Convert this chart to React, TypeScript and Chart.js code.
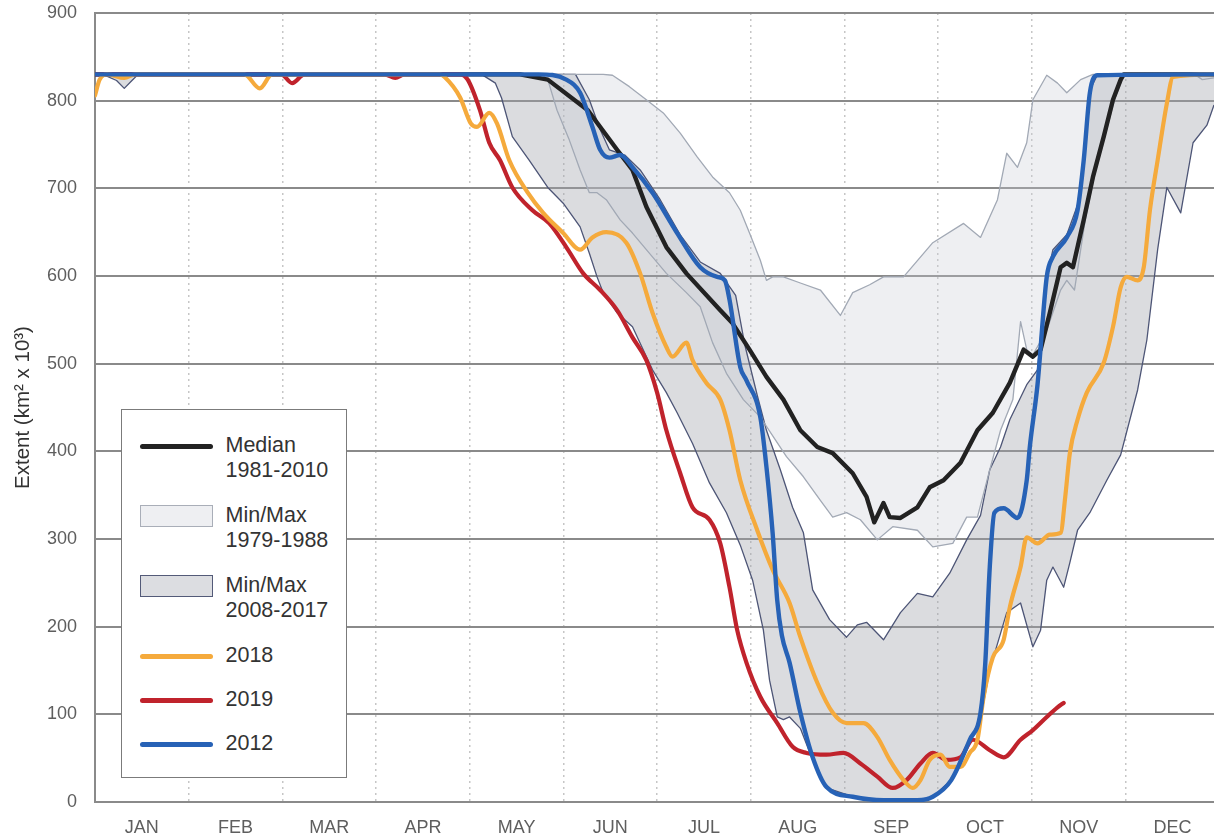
import React, { useEffect, useRef } from "react";
import { Chart, registerables } from "chart.js";

Chart.register(...registerables);

// ---------- axes / labels ----------
const MONTHS = ["JAN", "FEB", "MAR", "APR", "MAY", "JUN", "JUL", "AUG", "SEP", "OCT", "NOV", "DEC"];
const Y_TICKS = [0, 100, 200, 300, 400, 500, 600, 700, 800, 900];
const DAYS_IN_YEAR = 365;
const X_END = 363.3;
const Y_TITLE = "Extent (km\u00b2 x 10\u00b3)";

// ---------- series (day of year, extent km² x 10³) ----------
const DAYS_2012 = [0, 144, 153, 157.5, 161.5, 164, 167, 170.5, 174.5, 181, 189, 196.5, 202, 204.5, 206, 209.5, 211.5, 216, 218, 220, 221.5, 223, 225.5, 229, 233, 237.5, 246, 256, 267, 272, 278, 284, 287.5, 289, 290.5, 292, 295, 299.5, 302.5, 303.5, 306, 309, 311, 315.5, 319, 321, 323, 325.5, 363.3];
const EXTENT_2012 = [830, 830, 824, 809, 770, 744, 735, 738, 724, 695, 649, 610, 599, 595, 573, 496, 481, 439, 382, 307, 230, 190, 159, 102, 51, 17, 6, 2, 2, 6, 25, 71, 102, 156, 268, 330, 335, 324, 367, 405, 476, 599, 622, 644, 675, 732, 809, 829, 830];

const DAYS_2018 = [0, 1.5, 4, 9.5, 13, 48.5, 53.5, 57.5, 112, 113.5, 118.5, 122, 124, 128, 130.5, 134.5, 140.5, 145.5, 152, 157.5, 161.5, 166, 172.5, 177, 181, 185.5, 187.5, 192, 194, 198.5, 203, 206, 209.5, 215, 220, 225.5, 229, 234.5, 239.5, 244, 249.5, 254, 258, 262.5, 265.5, 268, 271, 274.5, 277.5, 281, 284, 286.5, 288.5, 291.5, 295, 297, 300.5, 302.5, 306, 310, 313.5, 315, 316.5, 319, 322, 327.5, 330.5, 333, 335, 338.5, 340.5, 342.5, 345, 348, 350, 363.3];
const EXTENT_2018 = [806, 824, 830, 826, 830, 830, 814, 830, 830, 827, 804, 774, 770, 786, 774, 732, 695, 672, 649, 630, 644, 650, 638, 603, 558, 519, 508, 524, 504, 478, 459, 424, 367, 310, 265, 227, 188, 136, 102, 90, 90, 74, 48, 25, 16, 25, 48, 54, 40, 40, 56, 71, 120, 165, 185, 222, 268, 302, 295, 305, 307, 348, 398, 436, 467, 501, 542, 587, 599, 595, 610, 675, 732, 797, 827, 830];

const DAYS_2019 = [0, 60.5, 64, 68, 94, 97.5, 100.5, 118.5, 121, 125, 128, 131.5, 135.5, 142, 147.5, 153, 158.5, 164, 169.5, 174.5, 179, 182.5, 185.5, 190, 194, 199.5, 203, 206, 208.5, 211.5, 216, 221.5, 226.5, 231, 237.5, 243, 248.5, 254, 259, 263.5, 268, 272, 276.5, 281, 285, 290.5, 295, 300.5, 304.5, 309, 312.5, 314.5];
const EXTENT_2019 = [830, 830, 820, 830, 830, 826, 830, 830, 824, 789, 752, 732, 701, 675, 660, 633, 603, 584, 561, 530, 504, 467, 424, 375, 336, 322, 295, 245, 196, 159, 120, 90, 63, 56, 54, 56, 44, 29, 16, 25, 44, 56, 48, 51, 71, 59, 51, 71, 82, 97, 108, 113];

const DAYS_MEDIAN = [0, 138, 147, 160, 169.5, 174.5, 179, 185.5, 192, 203, 207, 212.5, 218, 223.5, 229, 234.5, 239.5, 246, 250.5, 253, 256, 258, 261.5, 267, 271, 275.5, 281, 286.5, 291.5, 297, 301.5, 304.5, 307, 310, 313.5, 315.5, 317.5, 321, 324, 327.5, 330.5, 333, 334, 363.3];
const EXTENT_MEDIAN = [830, 830, 824, 789, 744, 721, 679, 633, 603, 561, 546, 516, 485, 459, 424, 405, 398, 375, 348, 319, 341, 325, 324, 336, 359, 367, 387, 424, 444, 478, 516, 508, 516, 558, 610, 615, 610, 664, 713, 759, 801, 824, 830, 830];

const DAYS_MAX_7988 = [0, 165, 168, 173.5, 179, 184.5, 190, 195.5, 200.5, 206, 209.5, 212.5, 216, 218, 220, 223.5, 229, 235.5, 242, 246, 251.5, 256, 262.5, 272, 282, 287.5, 293, 296, 299.5, 302.5, 304.5, 309, 312.5, 315.5, 320, 324, 357, 359.5, 363.3];
const EXTENT_MAX_7988 = [830, 830, 829, 816, 801, 786, 763, 736, 713, 695, 675, 649, 618, 595, 599, 599, 592, 584, 555, 581, 590, 599, 599, 638, 660, 644, 687, 740, 724, 752, 801, 829, 820, 809, 824, 830, 830, 824, 826];

const DAYS_MIN_7988 = [0, 145, 147, 150, 154, 157.5, 160.5, 163, 166, 170.5, 174.5, 179, 185.5, 192, 196.5, 200.5, 205, 210.5, 216, 224.5, 230, 235.5, 239.5, 244, 248.5, 254, 259, 267, 272, 278.5, 283, 286.5, 290.5, 294, 298, 300.5, 302.5, 304.5, 309, 313.5, 315.5, 318, 321.5, 324.5, 328, 331, 334, 363.3];
const EXTENT_MIN_7988 = [830, 830, 824, 789, 755, 721, 695, 695, 687, 664, 649, 630, 603, 581, 565, 524, 489, 459, 439, 394, 371, 344, 325, 330, 322, 299, 314, 310, 291, 295, 325, 325, 379, 424, 459, 548, 516, 510, 538, 584, 595, 584, 664, 715, 761, 801, 829, 830];

const DAYS_MAX_0817 = [0, 156, 160.5, 164, 167, 172, 177, 183.5, 190, 196.5, 203, 208, 211, 215, 218, 222.5, 226.5, 230, 233, 238.5, 244, 247.5, 250.5, 256, 261.5, 267, 272, 277.5, 283, 287.5, 290.5, 294, 297, 302.5, 306, 308.5, 311, 315.5, 319, 321, 323, 325.5, 363.3];
const EXTENT_MAX_0817 = [830, 830, 801, 767, 744, 738, 721, 687, 647, 616, 603, 578, 521, 464, 424, 379, 336, 307, 242, 208, 188, 202, 205, 185, 216, 238, 234, 261, 299, 327, 379, 405, 436, 476, 493, 590, 630, 647, 681, 732, 812, 830, 830];

const DAYS_MIN_0817 = [0, 2.5, 7, 9.5, 12, 14, 125.5, 130, 132, 135.5, 141, 147, 152, 157.5, 160.5, 163, 165, 169.5, 174.5, 181, 185.5, 189, 194, 199.5, 205, 209.5, 213.5, 217, 219, 221.5, 223.5, 225.5, 229, 233, 237.5, 246, 256, 267, 272, 278, 284, 287.5, 290.5, 296, 300.5, 304.5, 307, 309, 311, 314.5, 316.5, 319, 323, 328.5, 333, 338.5, 341.5, 345, 348, 352.5, 356.5, 361, 363.3];
const EXTENT_MIN_0817 = [830, 830, 823, 814, 823, 830, 830, 820, 803, 759, 732, 701, 683, 656, 626, 599, 581, 558, 542, 493, 467, 444, 409, 364, 330, 293, 253, 196, 139, 97, 94, 97, 84, 48, 16, 6, 2, 2, 6, 25, 71, 94, 151, 216, 227, 177, 196, 253, 268, 245, 273, 310, 330, 367, 396, 470, 527, 630, 701, 672, 752, 772, 795];

const LEGEND_LABELS = [
  ["Median", "1981-2010"],
  ["Min/Max", "1979-1988"],
  ["Min/Max", "2008-2017"],
  ["2018"],
  ["2019"],
  ["2012"],
];

// ---------- styles ----------
const FONT = "'Liberation Sans', Arial, Helvetica, sans-serif";
const C_2012 = "#2762b6";
const C_2018 = "#f5aa3c";
const C_2019 = "#c0232c";
const C_MEDIAN = "#222222";
const C_LIGHT_EDGE = "#a2a9b5";
const C_LIGHT_FILL = "rgba(200,203,212,0.30)";
const C_DARK_EDGE = "#4d5576";
const C_DARK_FILL = "rgba(160,162,172,0.38)";
const C_GRID = "#8a8a8a";

const pts = (xs: number[], ys: number[]) => xs.map((x, i) => ({ x, y: ys[i] }));

function Legend() {
  // layout of legend rows (page coordinates)
  const box = { left: 121, top: 409, width: 226, height: 369 };
  const rowCenters = [445, 515, 585, 655, 699, 743];
  const kinds = ["line", "lightband", "darkband", "line", "line", "line"];
  const colors = [C_MEDIAN, "", "", C_2018, C_2019, C_2012];
  return (
    <div
      style={{
        position: "absolute",
        left: box.left,
        top: box.top,
        width: box.width,
        height: box.height,
        border: "1.5px solid #7b7b7b",
        background: "#ffffff",
        boxSizing: "border-box",
        fontFamily: FONT,
        fontSize: 21.5,
        color: "#333333",
      }}
    >
      {LEGEND_LABELS.map((lines, i) => {
        const cy = rowCenters[i] - box.top;
        const kind = kinds[i];
        let swatch;
        if (kind === "line") {
          swatch = (
            <div
              style={{
                position: "absolute",
                left: 140 - box.left - 1.5,
                top: cy - 2.5,
                width: 73,
                height: 5,
                borderRadius: 3,
                background: colors[i],
              }}
            />
          );
        } else {
          const light = kind === "lightband";
          swatch = (
            <div
              style={{
                position: "absolute",
                left: 140 - box.left - 1.5,
                top: cy - 11,
                width: 73,
                height: 22,
                boxSizing: "border-box",
                background: light ? "#eeeff2" : "#dcdde1",
                border: `1.5px solid ${light ? "#a9aeb8" : "#535a78"}`,
              }}
            />
          );
        }
        return (
          <React.Fragment key={i}>
            {swatch}
            <div
              style={{
                position: "absolute",
                left: 226 - box.left - 1.5,
                top: cy - 12.5 - 1,
                lineHeight: "25px",
                whiteSpace: "nowrap",
              }}
            >
              {lines.map((t, j) => (
                <div key={j}>{t}</div>
              ))}
            </div>
          </React.Fragment>
        );
      })}
    </div>
  );
}

export default function App() {
  const ref = useRef<HTMLCanvasElement | null>(null);

  useEffect(() => {
    const canvas = ref.current;
    if (!canvas) return;
    const monthLen = DAYS_IN_YEAR / 12;

    const line = (label: string, xs: number[], ys: number[], color: string, width: number, smooth: boolean) => ({
      label,
      data: pts(xs, ys),
      borderColor: color,
      backgroundColor: color,
      borderWidth: width,
      pointRadius: 0,
      fill: false,
      tension: 0,
      cubicInterpolationMode: smooth ? "monotone" : "default",
      borderJoinStyle: "round",
      borderCapStyle: "round",
    });

    const band = (label: string, xs: number[], ys: number[], edge: string, fillColor: string | null) => ({
      label,
      data: pts(xs, ys),
      borderColor: edge,
      backgroundColor: fillColor || "transparent",
      borderWidth: 1.3,
      pointRadius: 0,
      tension: 0,
      fill: fillColor ? "+1" : false,
      borderJoinStyle: "round",
    });

    const datasets: any[] = [
      line("2012", DAYS_2012, EXTENT_2012, C_2012, 4.4, true),
      line("2018", DAYS_2018, EXTENT_2018, C_2018, 4.2, true),
      line("2019", DAYS_2019, EXTENT_2019, C_2019, 4.2, true),
      line("Median 1981-2010", DAYS_MEDIAN, EXTENT_MEDIAN, C_MEDIAN, 4.4, false),
      band("Max 1979-1988", DAYS_MAX_7988, EXTENT_MAX_7988, C_LIGHT_EDGE, C_LIGHT_FILL),
      band("Min 1979-1988", DAYS_MIN_7988, EXTENT_MIN_7988, C_LIGHT_EDGE, null),
      band("Max 2008-2017", DAYS_MAX_0817, EXTENT_MAX_0817, C_DARK_EDGE, C_DARK_FILL),
      band("Min 2008-2017", DAYS_MIN_0817, EXTENT_MIN_0817, C_DARK_EDGE, null),
    ];

    const chart = new Chart(canvas, {
      type: "line",
      data: { datasets },
      options: {
        animation: false,
        responsive: false,
        events: [],
        layout: { padding: { top: 13, right: 0, left: 0, bottom: 0 } },
        plugins: {
          legend: { display: false },
          tooltip: { enabled: false },
          filler: { drawTime: "beforeDatasetsDraw", propagate: false },
        } as any,
        scales: {
          x: {
            type: "linear",
            position: "bottom",
            min: 0,
            max: X_END,
            weight: 1,
            afterBuildTicks: (s: any) => {
              s.ticks = MONTHS.map((_, i) => ({ value: (i + 0.5) * monthLen }));
            },
            afterFit: (s: any) => {
              s.height = 34;
              s.paddingLeft = 0;
              s.paddingRight = 0;
            },
            grid: { display: false, drawTicks: false },
            border: { display: true, color: C_GRID, width: 2 },
            ticks: {
              autoSkip: false,
              maxRotation: 0,
              padding: 15,
              color: "#5e5e5e",
              font: { family: FONT, size: 18 },
              callback: (_v: any, i: number) => MONTHS[i],
            },
          },
          xm: {
            type: "linear",
            position: "bottom",
            min: 0,
            max: X_END,
            weight: 0,
            afterBuildTicks: (s: any) => {
              s.ticks = MONTHS.slice(1).map((_, i) => ({ value: (i + 1) * monthLen }));
            },
            afterFit: (s: any) => {
              s.height = 0;
              s.paddingLeft = 0;
              s.paddingRight = 0;
            },
            grid: { display: true, drawTicks: false, color: "#c6c6c6", lineWidth: 1.5 },
            border: { display: false, dash: [2, 4] },
            ticks: { display: false },
          },
          y: {
            type: "linear",
            min: 0,
            max: 900,
            afterBuildTicks: (s: any) => {
              s.ticks = Y_TICKS.map((v) => ({ value: v }));
            },
            afterFit: (s: any) => {
              s.width = 95;
              s.paddingTop = 0;
              s.paddingBottom = 0;
            },
            grid: { color: C_GRID, lineWidth: 2, drawTicks: false },
            border: { display: true, color: C_GRID, width: 2 },
            ticks: {
              padding: 18,
              color: "#5e5e5e",
              font: { family: FONT, size: 18 },
            },
            title: {
              display: true,
              text: Y_TITLE,
              color: "#333333",
              font: { family: FONT, size: 20.5 },
              padding: { top: 11, bottom: 0 },
            },
          },
        } as any,
      },
    } as any);

    return () => chart.destroy();
  }, []);

  return (
    <div
      style={{
        position: "fixed",
        left: 0,
        top: 0,
        width: 1214,
        height: 836,
        background: "#ffffff",
        overflow: "hidden",
      }}
    >
      <canvas ref={ref} width={1214} height={836} style={{ display: "block" }} />
      <Legend />
    </div>
  );
}
